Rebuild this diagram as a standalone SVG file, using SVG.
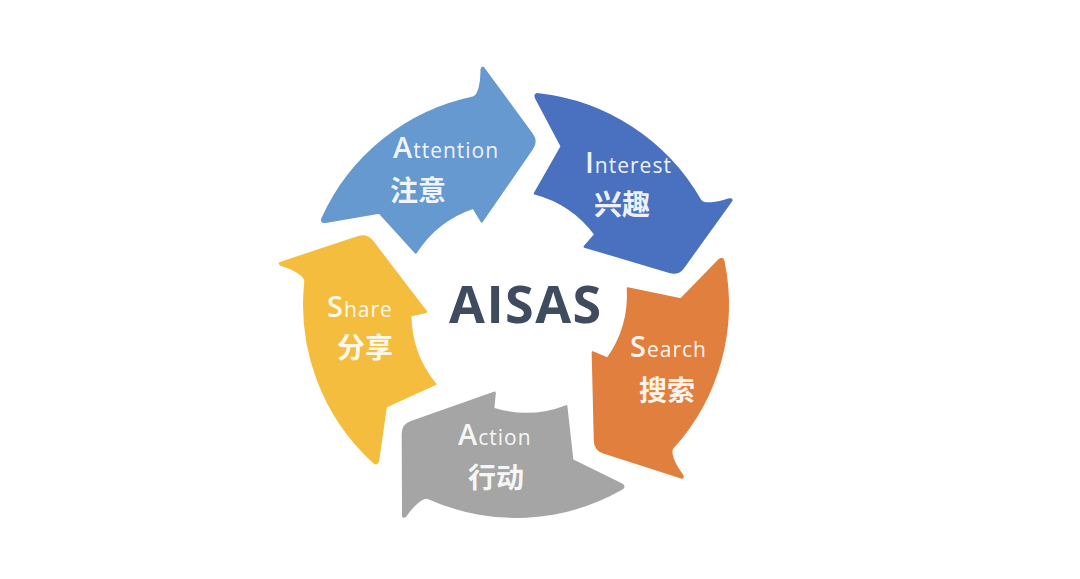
<svg xmlns="http://www.w3.org/2000/svg" xmlns:xlink="http://www.w3.org/1999/xlink" width="1080" height="579" viewBox="0 0 1080 579">
  <style>
    .lat { font-family: "Open Sans", "Noto Sans", "Liberation Sans", sans-serif; fill: #ffffff; fill-opacity: 0.93; letter-spacing: 1px; }
    .big { font-size: 29px; font-weight: 600; }
    .sm { font-size: 21px; font-weight: 500; }
    .cjk { font-family: "Noto Sans CJK SC", "Noto Sans", sans-serif; font-size: 28px; font-weight: 700; fill: #ffffff; fill-opacity: 0.93; text-anchor: middle; }
    .title { font-family: "Open Sans", "Liberation Sans", sans-serif; font-size: 52px; font-weight: 700; fill: #3f4b5f; letter-spacing: 1.5px; }
    .arr { stroke-width: 2; stroke-linejoin: round; }
  </style>
  <defs>
    <path id="arrow" d="M -193.5,-86.8 A 213 213 0 0 1 -43.0,-207.6 C -37.1,-208.8 -34.2,-222 -34.6,-235.6 Q -33.5,-239.6 -31.4,-235.4 L 15.9,-170.9 Q 21.3,-163.6 16.1,-156.2 L -34.3,-83.2 L -42.6,-97.1 A 110 110 0 0 0 -100.2,-52.2 L -136.8,-92.3 L -190.5,-83.0 Q -195.4,-82.2 -193.5,-86.8 Z"/>
  </defs>
  <rect width="1080" height="579" fill="#ffffff"/>

  <g id="attention">
    <use xlink:href="#arrow" href="#arrow" class="arr" transform="translate(516,305) rotate(0)" fill="#6699cf" stroke="#6699cf"/>
    <text class="lat" x="393" y="158"><tspan class="big">A</tspan><tspan class="sm">ttention</tspan></text>
    <text class="cjk" x="418" y="201">注意</text>
  </g>

  <g id="interest">
    <use xlink:href="#arrow" href="#arrow" class="arr" transform="translate(516,305) rotate(72)" fill="#4a71bf" stroke="#4a71bf"/>
    <text class="lat" x="585" y="173"><tspan class="big">I</tspan><tspan class="sm">nterest</tspan></text>
    <text class="cjk" x="622" y="215">兴趣</text>
  </g>

  <g id="search">
    <use xlink:href="#arrow" href="#arrow" class="arr" transform="translate(516,305) rotate(144)" fill="#e07f3e" stroke="#e07f3e"/>
    <text class="lat" x="630" y="357"><tspan class="big">S</tspan><tspan class="sm">earch</tspan></text>
    <text class="cjk" x="667" y="401">搜索</text>
  </g>

  <g id="action">
    <use xlink:href="#arrow" href="#arrow" class="arr" transform="translate(516,305) rotate(216)" fill="#a5a5a6" stroke="#a5a5a6"/>
    <text class="lat" x="458" y="445"><tspan class="big">A</tspan><tspan class="sm">ction</tspan></text>
    <text class="cjk" x="496" y="488">行动</text>
  </g>

  <g id="share">
    <use xlink:href="#arrow" href="#arrow" class="arr" transform="translate(516,305) rotate(288)" fill="#f5bd3d" stroke="#f5bd3d"/>
    <text class="lat" x="327" y="317"><tspan class="big">S</tspan><tspan class="sm">hare</tspan></text>
    <text class="cjk" x="365" y="358">分享</text>
  </g>

  <g id="center">
    <text class="title" x="449" y="323">AISAS</text>
  </g>
</svg>
